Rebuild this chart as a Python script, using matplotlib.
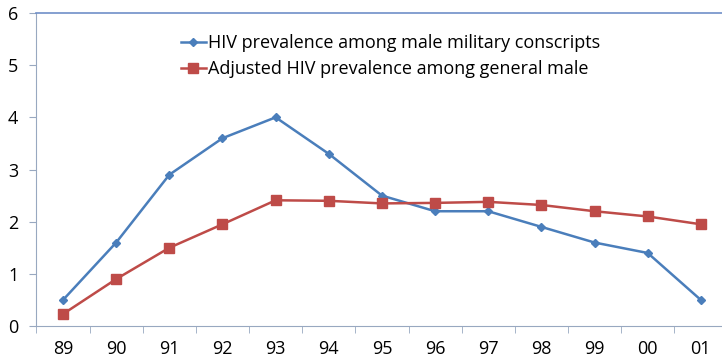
import matplotlib.pyplot as plt

years = ["89", "90", "91", "92", "93", "94", "95", "96", "97", "98", "99", "00", "01"]
conscripts = [0.5, 1.6, 2.9, 3.6, 4.0, 3.3, 2.5, 2.2, 2.2, 1.9, 1.6, 1.4, 0.5]
general_male = [0.23, 0.9, 1.5, 1.95, 2.41, 2.4, 2.35, 2.36, 2.38, 2.32, 2.2, 2.1, 1.95]

plt.rcParams["font.family"] = ["Open Sans", "DejaVu Sans"]

fig = plt.figure(figsize=(7.22, 3.6), dpi=100)
ax = fig.add_axes([0.0505, 0.0944, 0.957, 0.8695])

x = range(len(years))
ax.plot(x, conscripts, color="#4a7ebb", lw=1.8, marker="D", ms=4.5,
        label="HIV prevalence among male military conscripts")
ax.plot(x, general_male, color="#be4b48", lw=1.8, marker="s", ms=6.5,
        label="Adjusted HIV prevalence among general male")

ax.set_xlim(-0.5, len(years) - 0.5)
ax.set_ylim(0, 6)
ax.set_yticks(range(7))
ax.set_xticks(x)
ax.set_xticklabels(years)
# tick marks sit between categories
ax.set_xticks([i - 0.5 for i in range(len(years) + 1)], minor=True)
ax.tick_params(axis="x", which="major", length=0, pad=10, labelsize=13)
ax.tick_params(axis="x", which="minor", length=5, color="#98a8c0")
ax.tick_params(axis="y", length=5, color="#98a8c0", labelsize=13, pad=8)

for side in ("left", "bottom"):
    ax.spines[side].set_color("#98a8c0")
ax.spines["top"].set_color("#6f8fc8")
ax.spines["top"].set_linewidth(1.2)
ax.spines["right"].set_visible(False)

ax.legend(loc="upper left", bbox_to_anchor=(0.24, 0.925), bbox_transform=fig.transFigure,
          frameon=False, fontsize=13, handlelength=1.4, handletextpad=0.15,
          labelspacing=0.45, borderaxespad=0)

fig.savefig("out.png", dpi=100)
